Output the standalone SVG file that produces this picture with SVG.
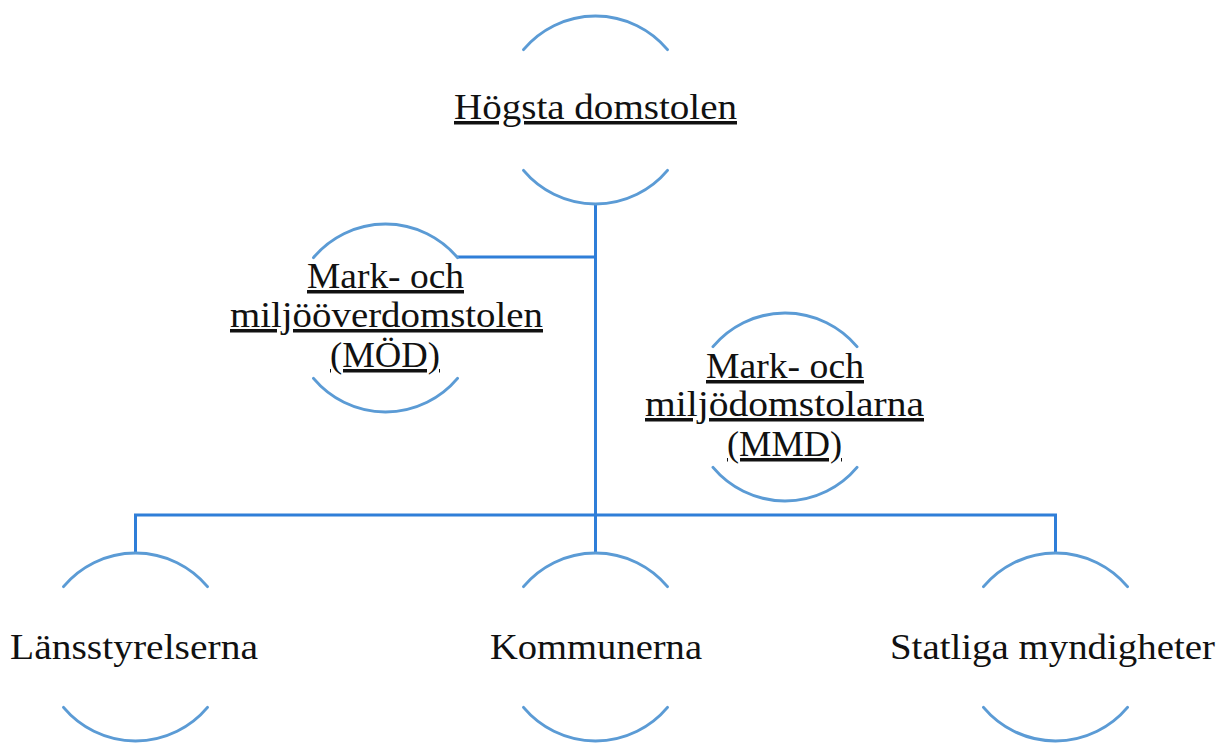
<svg xmlns="http://www.w3.org/2000/svg" xmlns:xlink="http://www.w3.org/1999/xlink" width="1222" height="745" viewBox="0 0 1222 745">
<style>
.arc{fill:none;stroke:#5b9bd5;stroke-width:3;stroke-linecap:round}
.con{fill:none;stroke:#2f7ed8;stroke-width:3}
.t{font-family:"Liberation Serif","Times New Roman",serif;font-size:35px;fill:#111;text-anchor:middle}
.u{text-decoration:underline}
</style>
<defs>
<path id="arcs" class="arc" d="M -72 -60.4 A 94 94 0 0 1 72 -60.4 M -72 60.4 A 94 94 0 0 0 72 60.4"/>
</defs>
<rect width="1222" height="745" fill="#fff"/>
<g id="connectors">
<path class="con" d="M 595.5 204 V 515"/>
<path class="con" d="M 457.5 257 H 595.5"/>
<path class="con" d="M 135.5 553 V 515 H 1055.5 V 553"/>
<path class="con" d="M 595.5 515 V 553"/>
</g>
<g id="hogsta">
<use xlink:href="#arcs" x="595.5" y="110"/>
<text class="t u" x="595.5" y="119" textLength="283" lengthAdjust="spacingAndGlyphs">Högsta domstolen</text>
</g>
<g id="mod">
<use xlink:href="#arcs" x="385.5" y="318"/>
<text class="t u" x="385.5" y="288" textLength="157" lengthAdjust="spacingAndGlyphs">Mark- och</text>
<text class="t u" x="386.5" y="327" textLength="313" lengthAdjust="spacingAndGlyphs">miljööverdomstolen</text>
<text class="t u" x="385" y="367" textLength="110" lengthAdjust="spacingAndGlyphs">(MÖD)</text>
</g>
<g id="mmd">
<use xlink:href="#arcs" x="785" y="407"/>
<text class="t u" x="785" y="378" textLength="158" lengthAdjust="spacingAndGlyphs">Mark- och</text>
<text class="t u" x="784.5" y="416" textLength="279" lengthAdjust="spacingAndGlyphs">miljödomstolarna</text>
<text class="t u" x="784.5" y="456" textLength="115" lengthAdjust="spacingAndGlyphs">(MMD)</text>
</g>
<g id="lansstyrelserna">
<use xlink:href="#arcs" x="135.5" y="647"/>
<text class="t" x="134" y="659" textLength="248" lengthAdjust="spacingAndGlyphs">Länsstyrelserna</text>
</g>
<g id="kommunerna">
<use xlink:href="#arcs" x="595.5" y="647"/>
<text class="t" x="596" y="659" textLength="212" lengthAdjust="spacingAndGlyphs">Kommunerna</text>
</g>
<g id="statliga">
<use xlink:href="#arcs" x="1055.5" y="647"/>
<text class="t" x="1052.5" y="659" textLength="325" lengthAdjust="spacingAndGlyphs">Statliga myndigheter</text>
</g>
</svg>
